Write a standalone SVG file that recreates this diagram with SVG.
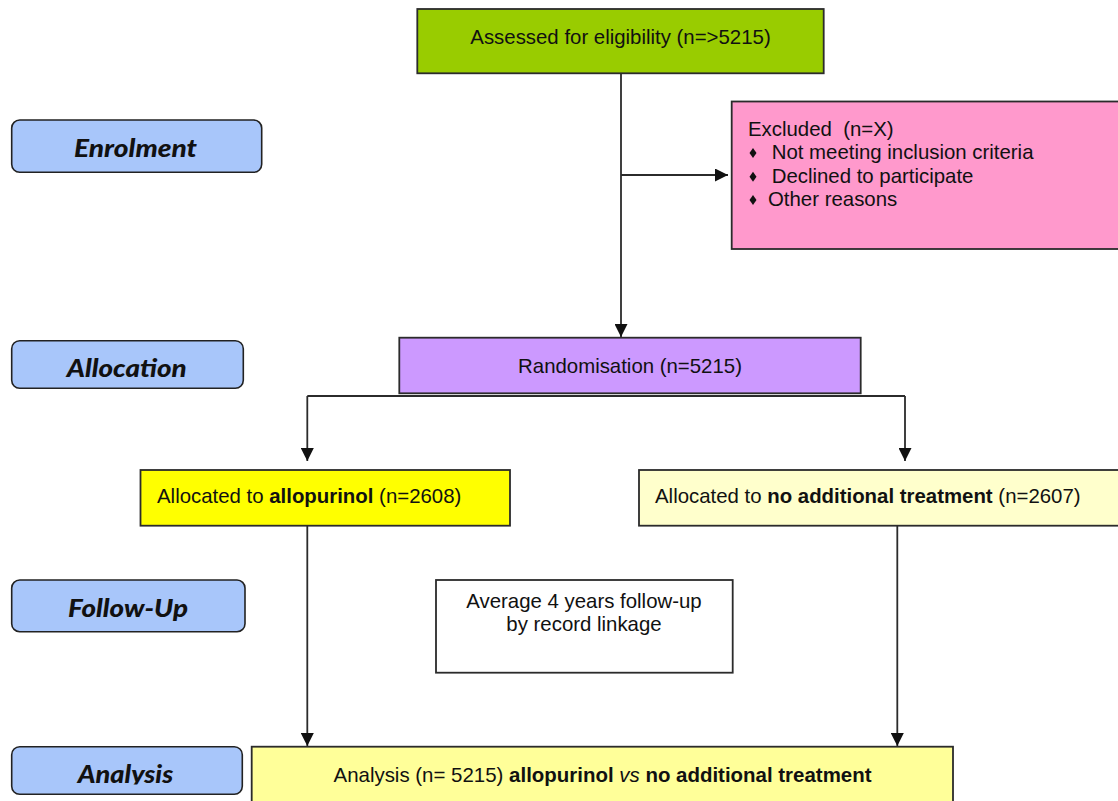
<svg xmlns="http://www.w3.org/2000/svg" width="1118" height="801" viewBox="0 0 1118 801">
<style>
.box{stroke:#2b2b2b;stroke-width:1.8}
.lbl{fill:#a8c6fa;stroke:#222;stroke-width:1.6}
.lt{font-family:Lato,"Open Sans","DejaVu Sans",sans-serif;font-weight:900;font-style:italic;font-size:25px;fill:#111}
.t{font-family:"Liberation Sans",Arial,sans-serif;font-size:20.4px;fill:#111}
.b{font-weight:bold}
.c{text-anchor:middle}
.ln{fill:none;stroke:#2b2b2b;stroke-width:1.8}
</style>
<defs>
<marker id="ah" markerUnits="userSpaceOnUse" markerWidth="14" markerHeight="13" refX="13" refY="6.5" orient="auto">
<path d="M0,0 L13,6.5 L0,13 Z" fill="#111"/>
</marker>
<path id="dia" d="M0,-5 L3.5,0 L0,5 L-3.5,0 Z" fill="#111"/>
<clipPath id="anclip"><rect x="11" y="740" width="240" height="44.5"/></clipPath>
</defs>
<rect width="1118" height="801" fill="#fff"/>

<g id="label-enrolment">
<rect class="lbl" x="11.7" y="120" width="250" height="52.3" rx="8"/>
<text class="lt" x="74" y="156.7" textLength="123" lengthAdjust="spacingAndGlyphs">Enrolment</text>
</g>
<g id="label-allocation">
<rect class="lbl" x="11.7" y="340.7" width="231.6" height="47.6" rx="8"/>
<text class="lt" x="66.7" y="377.3" textLength="120" lengthAdjust="spacingAndGlyphs">Allocation</text>
</g>
<g id="label-followup">
<rect class="lbl" x="11.7" y="580" width="233.3" height="51.7" rx="8"/>
<text class="lt" x="68" y="616.7" textLength="120" lengthAdjust="spacingAndGlyphs">Follow-Up</text>
</g>
<g id="label-analysis">
<rect class="lbl" x="11.7" y="746.7" width="230.6" height="47.6" rx="8"/>
<text class="lt" x="77.7" y="782.7" textLength="95.5" lengthAdjust="spacingAndGlyphs" clip-path="url(#anclip)">Analysis</text>
</g>

<g id="connectors">
<path class="ln" d="M621,73.3 V337" marker-end="url(#ah)"/>
<path class="ln" d="M621,175 H728" marker-end="url(#ah)"/>
<path class="ln" d="M307.3,396 H905"/>
<path class="ln" d="M307.3,396 V461" marker-end="url(#ah)"/>
<path class="ln" d="M905,396 V461" marker-end="url(#ah)"/>
<path class="ln" d="M307.3,525.7 V746" marker-end="url(#ah)"/>
<path class="ln" d="M897.3,525.7 V746" marker-end="url(#ah)"/>
</g>

<g id="assessed">
<rect class="box" x="417.3" y="9" width="406.4" height="64.3" fill="#99cc00"/>
<text class="t c" x="620.5" y="44.3">Assessed for eligibility (n=&gt;5215)</text>
</g>

<g id="excluded">
<rect class="box" x="731.7" y="101.5" width="390" height="147.5" fill="#ff99cc"/>
<text class="t" x="748" y="135.7" xml:space="preserve">Excluded  (n=X)</text>
<use href="#dia" x="753" y="153"/>
<text class="t" x="771.7" y="159">Not meeting inclusion criteria</text>
<use href="#dia" x="753" y="176.7"/>
<text class="t" x="771.7" y="182.7">Declined to participate</text>
<use href="#dia" x="753" y="200"/>
<text class="t" x="768" y="206">Other reasons</text>
</g>

<g id="randomisation">
<rect class="box" x="399.3" y="337.7" width="461.4" height="55.6" fill="#cc99ff"/>
<text class="t c" x="630" y="372.7">Randomisation (n=5215)</text>
</g>

<g id="alloc-allopurinol">
<rect class="box" x="140.5" y="470" width="369.5" height="55.7" fill="#ffff00"/>
<text class="t" x="157" y="503.3">Allocated to <tspan class="b">allopurinol</tspan> (n=2608)</text>
</g>

<g id="alloc-none">
<rect class="box" x="639" y="470" width="482" height="55.7" fill="#ffffcc"/>
<text class="t" x="655" y="503.3">Allocated to <tspan class="b">no additional treatment</tspan> (n=2607)</text>
</g>

<g id="followup">
<rect class="box" x="436" y="580" width="296.7" height="92.7" fill="#ffffff"/>
<text class="t c" x="584" y="607.7">Average 4 years follow-up</text>
<text class="t c" x="584" y="631">by record linkage</text>
</g>

<g id="analysis">
<rect class="box" x="251.7" y="746.7" width="701.3" height="60" fill="#ffff99"/>
<text class="t" x="333.5" y="781.5" textLength="538" lengthAdjust="spacingAndGlyphs">Analysis (n= 5215) <tspan class="b">allopurinol</tspan> <tspan font-style="italic">vs</tspan> <tspan class="b">no additional treatment</tspan></text>
</g>
</svg>
